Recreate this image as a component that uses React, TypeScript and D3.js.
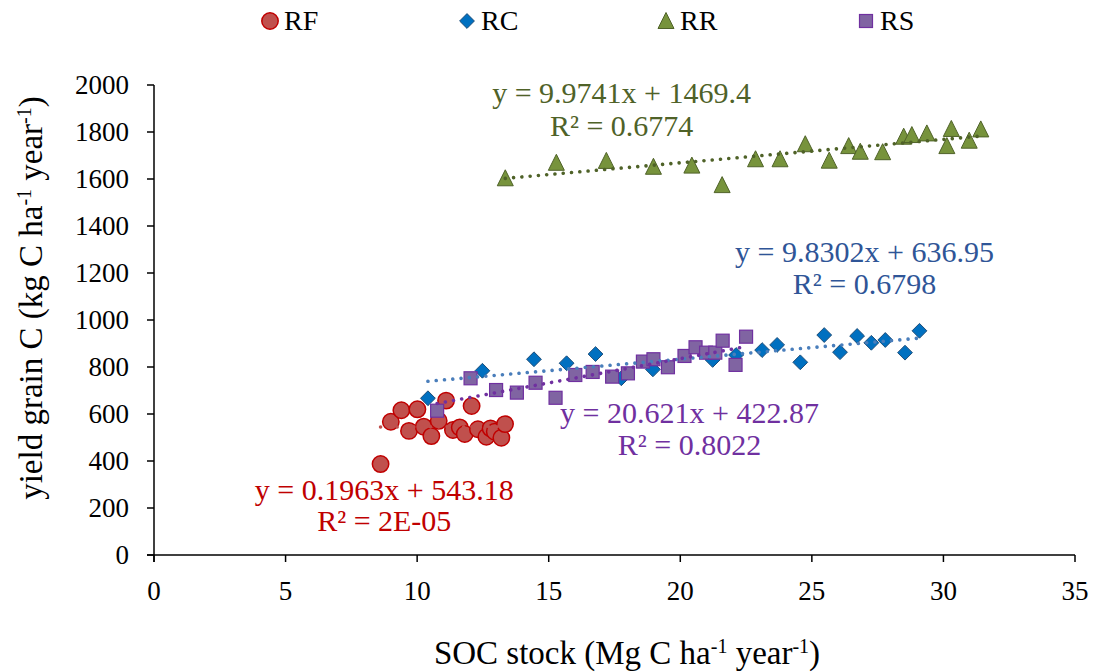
import React from "react";
import * as d3 from "d3";

// ---- Data ----
const RF_X = [8.61, 9.0, 9.4, 9.69, 10.01, 10.25, 10.54, 10.82, 11.1, 11.36, 11.62, 11.81, 12.07, 12.31, 12.63, 12.79, 12.95, 13.2, 13.34];
const RF_Y = [387, 567, 616, 528, 620, 546, 506, 571, 657, 532, 543, 515, 634, 535, 503, 539, 525, 499, 557];

const RC_X = [10.41, 12.48, 14.44, 15.68, 16.78, 17.76, 18.96, 21.23, 22.12, 23.11, 23.68, 24.56, 25.47, 26.07, 26.72, 27.26, 27.79, 28.54, 29.09];
const RC_Y = [667, 784, 833, 816, 855, 752, 790, 830, 851, 872, 894, 820, 936, 863, 932, 903, 915, 861, 954];

const RR_X = [13.35, 15.29, 17.19, 18.98, 20.44, 21.59, 22.86, 23.79, 24.75, 25.66, 26.4, 26.84, 27.69, 28.49, 28.8, 29.37, 30.13, 30.3, 30.98, 31.42];
const RR_Y = [1603, 1669, 1677, 1652, 1657, 1574, 1684, 1684, 1748, 1678, 1740, 1716, 1714, 1780, 1787, 1794, 1740, 1813, 1763, 1811];

const RS_X = [10.76, 12.03, 13.0, 13.79, 14.5, 15.26, 16.01, 16.67, 17.41, 18.01, 18.58, 18.98, 19.53, 20.16, 20.58, 20.98, 21.33, 21.61, 22.1, 22.5];
const RS_Y = [614, 752, 702, 691, 733, 669, 766, 779, 759, 773, 823, 833, 799, 847, 884, 861, 861, 912, 809, 929];

const SERIES_NAMES = ["RF", "RC", "RR", "RS"];
const TREND_SLOPES = [0.1963, 9.8302, 9.9741, 20.621];
const TREND_INTERCEPTS = [543.18, 636.95, 1469.4, 422.87];
const EQ_TEXTS = ["y = 0.1963x + 543.18", "y = 9.8302x + 636.95", "y = 9.9741x + 1469.4", "y = 20.621x + 422.87"];
const R2_TEXTS = ["R² = 2E-05", "R² = 0.6798", "R² = 0.6774", "R² = 0.8022"];
// label anchors in data units [x center, y of equation baseline, y of R² baseline]
const LABEL_X = [8.75, 27.0, 17.77, 20.35];
const LABEL_EQ_Y = [234, 1247, 1923, 562];
const LABEL_R2_Y = [102, 1111, 1783, 426];

const X_TICKS = [0, 5, 10, 15, 20, 25, 30, 35];
const Y_TICKS = [0, 200, 400, 600, 800, 1000, 1200, 1400, 1600, 1800, 2000];

const W = 1097;
const H = 672;
const FONT = "'Liberation Serif', 'Times New Roman', 'DejaVu Serif', serif";

const STYLE = {
  RF: { fill: "#c0504d", stroke: "#c00000", trend: "#c0504d", label: "#c00000" },
  RC: { fill: "#0070c0", stroke: "#1f4e79", trend: "#4a7ebb", label: "#2f5597" },
  RR: { fill: "#77933c", stroke: "#4f6228", trend: "#4f6228", label: "#4f6228" },
  RS: { fill: "#8064a2", stroke: "#7030a0", trend: "#7030a0", label: "#7030a0" },
} as Record<string, { fill: string; stroke: string; trend: string; label: string }>;

function Marker({ name, cx, cy }: { name: string; cx: number; cy: number }) {
  const s = STYLE[name];
  if (name === "RF") {
    return <circle cx={cx} cy={cy} r={8.2} fill={s.fill} stroke={s.stroke} strokeWidth={1.5} />;
  }
  if (name === "RC") {
    const r = 7.4;
    return (
      <path
        d={`M${cx},${cy - r}L${cx + r},${cy}L${cx},${cy + r}L${cx - r},${cy}Z`}
        fill={s.fill}
        stroke={s.stroke}
        strokeWidth={1}
      />
    );
  }
  if (name === "RR") {
    const h = 15, w = 16;
    return (
      <path
        d={`M${cx},${cy - h / 2 - 1}L${cx + w / 2},${cy + h / 2}L${cx - w / 2},${cy + h / 2}Z`}
        fill={s.fill}
        stroke={s.stroke}
        strokeWidth={1}
      />
    );
  }
  const a = 13;
  return <rect x={cx - a / 2} y={cy - a / 2} width={a} height={a} fill={s.fill} stroke={s.stroke} strokeWidth={1.2} />;
}

export default function App() {
  const x = d3.scaleLinear().domain([0, 35]).range([154, 1075]);
  const y = d3.scaleLinear().domain([0, 2000]).range([555, 85]);

  const xs = [RF_X, RC_X, RR_X, RS_X];
  const ys = [RF_Y, RC_Y, RR_Y, RS_Y];

  const line = d3
    .line<[number, number]>()
    .x((d) => x(d[0]))
    .y((d) => y(d[1]));

  const legendX = [270, 467, 666, 866];

  return (
    <svg
      width={W}
      height={H}
      style={{ position: "absolute", left: 0, top: 0, background: "#fff" }}
      fontFamily={FONT}
    >
      <rect x={0} y={0} width={W} height={H} fill="#fff" />

      {/* Axes */}
      <line x1={x(0) - 7} x2={x(35)} y1={y(0)} y2={y(0)} stroke="#000" strokeWidth={1.5} />
      <line x1={x(0)} x2={x(0)} y1={y(2000)} y2={y(0) + 7} stroke="#000" strokeWidth={1.5} />
      {Y_TICKS.map((t) => (
        <g key={"yt" + t}>
          <line x1={x(0) - 7} x2={x(0)} y1={y(t)} y2={y(t)} stroke="#000" strokeWidth={1.5} />
          <text x={x(0) - 25} y={y(t)} dy="0.35em" textAnchor="end" fontSize={27} fill="#000">
            {t}
          </text>
        </g>
      ))}
      {X_TICKS.map((t) => (
        <g key={"xt" + t}>
          <line x1={x(t)} x2={x(t)} y1={y(0)} y2={y(0) + 7} stroke="#000" strokeWidth={1.5} />
          <text x={x(t)} y={600} textAnchor="middle" fontSize={27} fill="#000">
            {t}
          </text>
        </g>
      ))}

      {/* Axis titles */}
      <text x={627} y={664} textAnchor="middle" fontSize={33} fill="#000">
        SOC stock (Mg C ha<tspan dy={-11} fontSize={20}>-1</tspan>
        <tspan dy={11}> year</tspan>
        <tspan dy={-11} fontSize={20}>-1</tspan>
        <tspan dy={11}>)</tspan>
      </text>
      <text transform={`translate(42,298) rotate(-90)`} textAnchor="middle" fontSize={33} fill="#000">
        yield grain C (kg C ha<tspan dy={-11} fontSize={20}>-1</tspan>
        <tspan dy={11}> year</tspan>
        <tspan dy={-11} fontSize={20}>-1</tspan>
        <tspan dy={11}>)</tspan>
      </text>

      {/* Markers */}
      {SERIES_NAMES.map((name, si) => (
        <g key={"m" + name}>
          {xs[si].map((v, i) => (
            <Marker key={i} name={name} cx={x(v)} cy={y(ys[si][i])} />
          ))}
        </g>
      ))}

      {/* Trendlines */}
      {SERIES_NAMES.map((name, si) => {
        const x0 = d3.min(xs[si]) as number;
        const x1 = d3.max(xs[si]) as number;
        const f = (v: number) => TREND_SLOPES[si] * v + TREND_INTERCEPTS[si];
        return (
          <path
            key={"t" + name}
            d={line([
              [x0, f(x0)],
              [x1, f(x1)],
            ]) as string}
            fill="none"
            stroke={STYLE[name].trend}
            strokeWidth={3.6}
            strokeLinecap="round"
            strokeDasharray="0.01 8.3"
          />
        );
      })}

      {/* Trend labels */}
      {SERIES_NAMES.map((name, si) => (
        <g key={"l" + name} fill={STYLE[name].label} fontSize={30} textAnchor="middle">
          <text x={x(LABEL_X[si])} y={y(LABEL_EQ_Y[si])}>
            {EQ_TEXTS[si]}
          </text>
          <text x={x(LABEL_X[si])} y={y(LABEL_R2_Y[si])}>
            {R2_TEXTS[si]}
          </text>
        </g>
      ))}

      {/* Legend */}
      {SERIES_NAMES.map((name, si) => (
        <g key={"lg" + name}>
          <Marker name={name} cx={legendX[si]} cy={21} />
          <text x={legendX[si] + 14} y={30} fontSize={28} fill="#000">
            {name}
          </text>
        </g>
      ))}
    </svg>
  );
}
